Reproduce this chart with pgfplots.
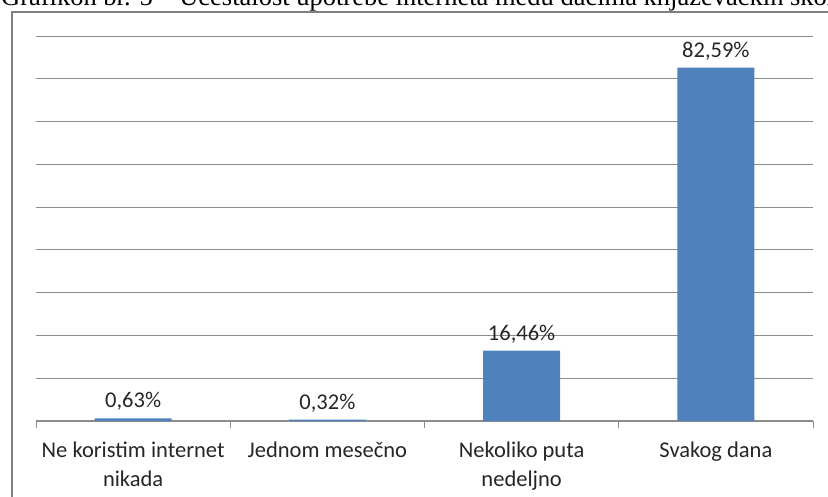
\documentclass[border=0pt]{standalone}
\usepackage{pgfplots}
\pgfplotsset{compat=1.18}
\usepackage{fontspec}
\setmainfont{Carlito}
\newfontfamily\titlefont{Liberation Serif}
\definecolor{barblue}{HTML}{4F81BD}
\definecolor{gridgray}{HTML}{8C8C8C}
\definecolor{boxgray}{HTML}{808080}
\definecolor{txt}{HTML}{262626}
\begin{document}
\begin{tikzpicture}
\useasboundingbox (0,0) rectangle (828pt,496pt);
\clip (0,0) rectangle (828pt,496pt);
% chart title, cut by the top edge as in the page scan
\node[anchor=base west, inner sep=0pt, font=\titlefont\fontsize{26.5}{30}\selectfont] at (1pt,490pt)
  {Grafikon br. 5 – Učestalost upotrebe interneta među đacima knjaževačkih škola};
\draw[boxgray, line width=2pt] (12pt,-10pt) -- (12pt,484pt) -- (840pt,484pt);
\begin{axis}[
  at={(36pt,75pt)}, anchor=south west, scale only axis,
  width=777pt, height=385pt,
  xmin=-0.5, xmax=3.5, ymin=0, ymax=90,
  ybar, bar width=77pt,
  separate axis lines,
  axis x line*=bottom, axis y line*=left,
  x axis line style={gridgray, line width=1.2pt, -},
  y axis line style={draw=none},
  ytick={0,10,...,90}, yticklabels={}, ytick style={draw=none},
  ymajorgrids, grid style={gridgray, line width=1pt},
  xtick={0,1,2,3},
  xticklabels={{Ne koristim internet\\nikada},{Jednom mesečno},{Nekoliko puta\\nedeljno},{Svakog dana}},
  xtick style={draw=none},
  xticklabel style={align=center, anchor=north, text=txt, font=\fontsize{22.5}{29}\selectfont, yshift=-13pt},
  extra x ticks={-0.5,0.5,1.5,2.5,3.5},
  extra x tick labels={},
  extra x tick style={xtick style={gridgray, line width=1pt, draw=gridgray}, xtick align=outside, major tick length=7pt},
  /pgf/number format/assume math mode=true,
  nodes near coords={\pgfmathprintnumber[fixed, precision=2, fixed zerofill, use comma, assume math mode=true]{\pgfplotspointmeta}\%},
  nodes near coords style={text=txt, font=\fontsize{22.5}{26}\selectfont, anchor=south, yshift=4pt},
]
\addplot[fill=barblue, draw=none] coordinates {(0,0.63) (1,0.32) (2,16.46) (3,82.59)};
\end{axis}
\end{tikzpicture}
\end{document}
